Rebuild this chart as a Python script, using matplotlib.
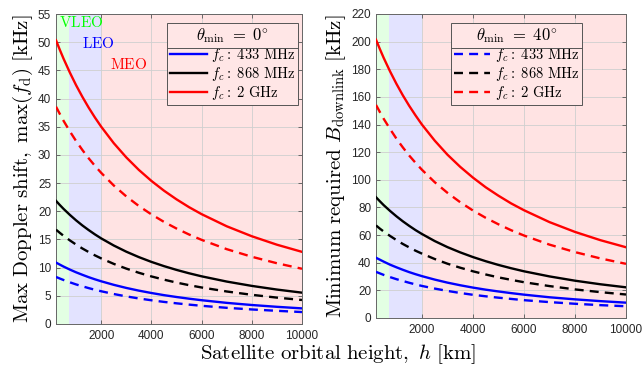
import matplotlib
matplotlib.use("Agg")
import matplotlib.pyplot as plt
from matplotlib.lines import Line2D

plt.rcParams["mathtext.fontset"] = "cm"
plt.rcParams["font.family"] = ["Liberation Sans", "DejaVu Sans"]

# orbital height [km]
h = [200, 350, 500, 750, 1000, 1250, 1500, 1750, 2000, 2500, 3000, 3500, 4000,
     4500, 5000, 5500, 6000, 7000, 8000, 9000, 10000]

# left panel: max Doppler shift [kHz]; solid = theta_min 0 deg, dashed = 40 deg
dop_433 = [10.90, 10.54, 10.19, 9.66, 9.17, 8.73, 8.31, 7.93, 7.58, 6.95, 6.40, 5.92, 5.50,
           5.12, 4.79, 4.49, 4.22, 3.75, 3.37, 3.05, 2.77]
dop_868 = [21.85, 21.12, 20.43, 19.37, 18.39, 17.49, 16.67, 15.90, 15.19, 13.93, 12.83, 11.87, 11.02,
           10.27, 9.60, 9.00, 8.46, 7.53, 6.76, 6.11, 5.56]
dop_2g = [50.34, 48.67, 47.08, 44.63, 42.37, 40.31, 38.40, 36.64, 35.01, 32.09, 29.56, 27.34, 25.39,
          23.66, 22.12, 20.73, 19.49, 17.34, 15.57, 14.07, 12.80]
dop_433_d = [8.35, 8.07, 7.81, 7.40, 7.02, 6.69, 6.37, 6.07, 5.81, 5.32, 4.90, 4.53, 4.21,
             3.92, 3.67, 3.44, 3.23, 2.87, 2.58, 2.34, 2.12]
dop_868_d = [16.74, 16.18, 15.65, 14.84, 14.09, 13.40, 12.77, 12.18, 11.64, 10.67, 9.83, 9.09, 8.44,
             7.87, 7.35, 6.89, 6.48, 5.77, 5.18, 4.68, 4.26]
dop_2g_d = [38.56, 37.28, 36.06, 34.19, 32.46, 30.88, 29.41, 28.07, 26.82, 24.58, 22.64, 20.94, 19.45,
            18.12, 16.94, 15.88, 14.93, 13.28, 11.93, 10.78, 9.80]

# right panel: minimum required downlink bandwidth [kHz]
bw_433 = [43.6, 42.2, 40.8, 38.6, 36.7, 34.9, 33.2, 31.7, 30.3, 27.8, 25.6, 23.7, 22.0,
          20.5, 19.2, 18.0, 16.9, 15.0, 13.5, 12.2, 11.1]
bw_868 = [87.4, 84.5, 81.7, 77.5, 73.6, 70.0, 66.7, 63.6, 60.8, 55.7, 51.3, 47.5, 44.1,
          41.1, 38.4, 36.0, 33.8, 30.1, 27.0, 24.4, 22.2]
bw_2g = [201.4, 194.7, 188.3, 178.5, 169.5, 161.2, 153.6, 146.6, 140.0, 128.4, 118.2, 109.4, 101.6,
         94.6, 88.5, 82.9, 78.0, 69.4, 62.3, 56.3, 51.2]
bw_433_d = [33.4, 32.3, 31.2, 29.6, 28.1, 26.8, 25.5, 24.3, 23.2, 21.3, 19.6, 18.1, 16.8,
            15.7, 14.7, 13.8, 12.9, 11.5, 10.3, 9.3, 8.5]
bw_868_d = [67.0, 64.7, 62.6, 59.4, 56.4, 53.6, 51.1, 48.7, 46.6, 42.7, 39.3, 36.4, 33.8,
            31.5, 29.4, 27.6, 25.9, 23.1, 20.7, 18.7, 17.0]
bw_2g_d = [154.2, 149.1, 144.2, 136.8, 129.8, 123.5, 117.6, 112.3, 107.3, 98.3, 90.6, 83.8, 77.8,
           72.5, 67.8, 63.5, 59.7, 53.1, 47.7, 43.1, 39.2]

freq_labels = [r"$f_c\mathrm{{:}\ 433\ MHz}$", r"$f_c\mathrm{{:}\ 868\ MHz}$", r"$f_c\mathrm{{:}\ 2\ GHz}$"]
colors = ["#0000ff", "#000000", "#ff0000"]

# orbit regions [km]
regions = [(200, 700, "#00ff00"), (700, 2000, "#0000ff"), (2000, 10000, "#ff0000")]

W, H = 642, 368
fig = plt.figure(figsize=(W / 100, H / 100), dpi=100)
ax1 = fig.add_axes([56 / W, 1 - 324 / H, 246 / W, 310 / H])
ax2 = fig.add_axes([376 / W, 1 - 318 / H, 250 / W, 304 / H])

tick_col = "#262626"
dash = (0, (3.8, 2.6))


def style(ax, ylim, yticks):
    for a, b, c in regions:
        ax.axvspan(a, b, color=c, alpha=0.11, lw=0, zorder=1)
    ax.set_xlim(200, 10000)
    ax.set_ylim(*ylim)
    ax.set_xticks([2000, 4000, 6000, 8000, 10000])
    ax.set_yticks(yticks)
    ax.grid(True, color="#cfcfcf", lw=0.6, zorder=0)
    ax.tick_params(direction="in", length=3, labelsize=8.5, labelcolor=tick_col,
                   color="#555555", top=True, right=True, width=0.6)
    ax.tick_params(axis="x", pad=4.5)
    for s in ax.spines.values():
        s.set_color("#666666")
        s.set_linewidth(0.7)


def legend(ax, handles, title, anchor):
    leg = ax.legend(handles=handles, title=title, loc="upper right",
                    bbox_to_anchor=anchor, fontsize=10.5, title_fontsize=12,
                    frameon=True, fancybox=False, handlelength=2.5,
                    handletextpad=0.3, borderpad=0.2, labelspacing=0.08,
                    borderaxespad=0)
    leg.get_frame().set_edgecolor("#555555")
    leg.get_frame().set_linewidth(0.7)
    leg.get_frame().set_facecolor("#ffe6e6")
    leg.get_frame().set_alpha(1)
    leg.set_zorder(5)
    return leg


# left panel
hs = []
for y, c, lab in zip([dop_433, dop_868, dop_2g], colors, freq_labels):
    ln, = ax1.plot(h, y, color=c, lw=1.7, label=lab, zorder=3)
    hs.append(ln)
for y, c in zip([dop_433_d, dop_868_d, dop_2g_d], colors):
    ax1.plot(h, y, color=c, lw=1.7, ls=dash, zorder=3)
style(ax1, (0, 55), range(0, 56, 5))
leg1 = legend(ax1, hs, r"$\theta_{\min}\ =\ 0^{\circ}$", (0.984, 0.971))
ax1.set_ylabel(r"$\mathrm{Max\ Doppler\ shift,\ max}(f_{\mathrm{d}})\ [\mathrm{kHz}]$",
               fontsize=15, labelpad=2)
ax1.text(330, 53.5, r"$\mathrm{VLEO}$", color="#00ff00", fontsize=11, va="center", zorder=4)
ax1.text(1250, 49.7, r"$\mathrm{LEO}$", color="#0000ff", fontsize=11, va="center", zorder=4)
ax1.text(2350, 46.0, r"$\mathrm{MEO}$", color="#ff0000", fontsize=11, va="center", zorder=4)

# right panel
hs = []
for y, c, lab in zip([bw_433_d, bw_868_d, bw_2g_d], colors, freq_labels):
    ln, = ax2.plot(h, y, color=c, lw=1.7, ls=dash, label=lab, zorder=3)
    hs.append(ln)
for y, c in zip([bw_433, bw_868, bw_2g], colors):
    ax2.plot(h, y, color=c, lw=1.7, zorder=3)
style(ax2, (0, 220), range(0, 221, 20))
leg2 = legend(ax2, hs, r"$\theta_{\min}\ =\ 40^{\circ}$", (0.824, 0.970))
ax2.set_ylabel(r"$\mathrm{Minimum\ required\ }B_{\mathrm{downlink}}\ [\mathrm{kHz}]$",
               fontsize=15, labelpad=2)

fig.text(338 / W, 1 - 354 / H, r"$\mathrm{Satellite\ orbital\ height,\ }h\ [\mathrm{km}]$",
         fontsize=15, ha="center", va="center")

# separator line under legend titles
fig.canvas.draw()
r = fig.canvas.get_renderer()
for leg in (leg1, leg2):
    fb = leg.get_frame().get_window_extent(r)
    tb = leg.get_title().get_window_extent(r)
    y = tb.y0 - 3
    fig.add_artist(Line2D([fb.x0 / W, fb.x1 / W], [y / H, y / H], color="#555555",
                          lw=0.7, zorder=6))

fig.savefig("out.png", dpi=100)
